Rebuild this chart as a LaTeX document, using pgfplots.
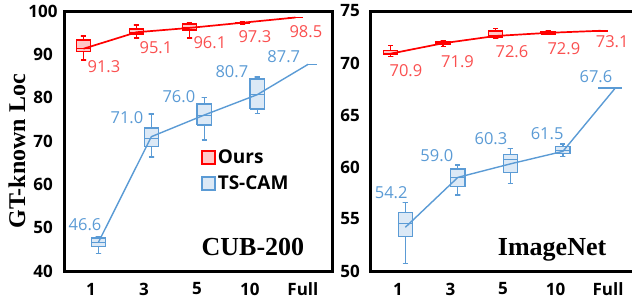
\documentclass[border=0pt]{standalone}
\usepackage{pgfplots}
\pgfplotsset{compat=1.18}
\usepackage{fontspec}
\setmainfont{Open Sans}
\newfontfamily\serifb{Liberation Serif}
\definecolor{ored}{RGB}{255,0,0}
\definecolor{oredfill}{RGB}{255,200,200}
\definecolor{oredtext}{RGB}{250,80,80}
\definecolor{tblue}{RGB}{91,155,213}
\definecolor{tbluefill}{RGB}{220,233,246}
\tikzset{
  oursnum/.style={text=oredtext, font=\fontsize{16.5}{19}\selectfont, anchor=center},
  tsnum/.style={text=tblue, font=\fontsize{16.5}{19}\selectfont, anchor=center},
  dsname/.style={font=\serifb\bfseries\fontsize{26}{30}\selectfont, anchor=center},
}
\pgfplotsset{
  common/.style={
    scale only axis, height=260pt,
    axis line style={line width=3pt, draw=black},
    major tick length=0pt,
    xtick={0,1,2,3,4}, xticklabels={1,3,5,10,Full},
    /pgf/number format/assume math mode=true,
    tick label style={font=\bfseries\fontsize{17}{20}\selectfont},
    xticklabel style={anchor=center, yshift=-18pt},
    clip=false, unbounded coords=jump,
  },
  oursbox/.style={draw=ored, fill=oredfill, line width=1.5pt, mark=none, forget plot},
  tsbox/.style={draw=tblue, fill=tbluefill, line width=1.4pt, mark=none, forget plot},
  ourswhisk/.style={draw=ored, line width=1.4pt, mark=none, forget plot},
  tswhisk/.style={draw=tblue, line width=1.3pt, mark=none, forget plot},
  oursmed/.style={draw=ored, line width=1.0pt, mark=none, forget plot},
  tsmed/.style={draw=tblue, line width=1.0pt, mark=none, forget plot},
  oursline/.style={ored, line width=1.7pt, mark=none, forget plot},
  tsline/.style={tblue, line width=1.4pt, mark=none, forget plot},
}
\begin{document}
\begin{tikzpicture}
\begin{axis}[common, name=lax, width=267pt,
  xmin=-0.49, xmax=4.55, ymin=40, ymax=100, ytick={40,50,...,100},
  yticklabel style={anchor=center, xshift=-22pt},
  ylabel={GT-known Loc},
  every axis y label/.style={at={(axis description cs:-0.18,0.46)}, rotate=90, anchor=center,
    font=\serifb\bfseries\fontsize{24}{28}\selectfont},
  legend style={at={(rel axis cs:0.51,0.475)}, anchor=north west, draw=none, fill=none,
    font=\bfseries\fontsize{19}{22}\selectfont, row sep=7pt, inner sep=0pt,
    cells={anchor=west}},
  legend image code/.code={\draw[#1, line width=1.4pt] (0pt,-6.5pt) rectangle (13pt,6.5pt);},
]
% Ours whiskers, boxes, medians
\addplot[ourswhisk] coordinates {(-0.19,88.7)(-0.09,88.7)(-0.14,88.7)(-0.14,94.2)(-0.19,94.2)(-0.09,94.2)(0,nan)
(0.81,93.8)(0.91,93.8)(0.86,93.8)(0.86,96.8)(0.81,96.8)(0.91,96.8)(0,nan)
(1.81,93.8)(1.91,93.8)(1.86,93.8)(1.86,97.3)(1.81,97.3)(1.91,97.3)(0,nan)
(2.81,97.0)(2.91,97.0)(2.86,97.0)(2.86,97.5)(2.81,97.5)(2.91,97.5)};
\addplot[oursbox] coordinates {(-0.275,90.6)(-0.005,90.6)(-0.005,93.3)(-0.275,93.3)(-0.275,90.6)(0,nan)
(0.725,94.7)(0.995,94.7)(0.995,95.8)(0.725,95.8)(0.725,94.7)(0,nan)
(1.725,95.6)(1.995,95.6)(1.995,97.0)(1.725,97.0)(1.725,95.6)(0,nan)
(2.725,97.2)(2.995,97.2)(2.995,97.4)(2.725,97.4)(2.725,97.2)(0,nan)
(3.725,98.5)(3.995,98.5)};
\addplot[oursmed] coordinates {(-0.275,91.4)(-0.005,91.4)(0,nan)(0.725,95.1)(0.995,95.1)(0,nan)(1.725,96.1)(1.995,96.1)(0,nan)(2.725,97.3)(2.995,97.3)};
% TS-CAM whiskers, boxes, medians
\addplot[tswhisk] coordinates {(0.09,44.1)(0.19,44.1)(0.14,44.1)(0.14,48.0)(0.09,48.0)(0.19,48.0)(0,nan)
(1.09,66.3)(1.19,66.3)(1.14,66.3)(1.14,76.2)(1.09,76.2)(1.19,76.2)(0,nan)
(2.09,70.2)(2.19,70.2)(2.14,70.2)(2.14,80.1)(2.09,80.1)(2.19,80.1)(0,nan)
(3.09,76.4)(3.19,76.4)(3.14,76.4)(3.14,84.8)(3.09,84.8)(3.19,84.8)};
\addplot[tsbox] coordinates {(0.005,45.7)(0.275,45.7)(0.275,47.6)(0.005,47.6)(0.005,45.7)(0,nan)
(1.005,68.8)(1.275,68.8)(1.275,73.0)(1.005,73.0)(1.005,68.8)(0,nan)
(2.005,73.7)(2.275,73.7)(2.275,78.5)(2.005,78.5)(2.005,73.7)(0,nan)
(3.005,77.4)(3.275,77.4)(3.275,84.3)(3.005,84.3)(3.005,77.4)(0,nan)
(4.07,87.7)(4.26,87.7)};
\addplot[tsmed] coordinates {(0.005,46.6)(0.275,46.6)(0,nan)(1.005,70.5)(1.275,70.5)(0,nan)(2.005,76.0)(2.275,76.0)(0,nan)(3.005,80.8)(3.275,80.8)};
% mean lines
\addplot[oursline] coordinates {(-0.14,91.3) (0.86,95.1) (1.86,96.1) (2.86,97.3) (3.86,98.5)};
\addplot[tsline] coordinates {(0.14,46.6) (1.14,71.0) (2.14,76.0) (3.14,80.7) (4.1,87.7)};
% labels
\node[oursnum] at (axis cs:0.245,87.1) {91.3};
\node[oursnum] at (axis cs:1.226,91.5) {95.1};
\node[oursnum] at (axis cs:2.245,92.6) {96.1};
\node[oursnum] at (axis cs:3.094,94.0) {97.3};
\node[oursnum] at (axis cs:4.057,95.2) {98.5};
\node[tsnum] at (axis cs:-0.113,50.6) {46.6};
\node[tsnum] at (axis cs:0.679,75.5) {71.0};
\node[tsnum] at (axis cs:1.66,80.2) {76.0};
\node[tsnum] at (axis cs:2.66,85.9) {80.7};
\node[tsnum] at (axis cs:3.64,89.4) {87.7};
\node[dsname] at (rel axis cs:0.704,0.092) {CUB-200};
\addlegendimage{draw=ored, fill=oredfill}
\addlegendentry{Ours}
\addlegendimage{draw=tblue, fill=tbluefill}
\addlegendentry{TS-CAM}
\end{axis}
\begin{axis}[common, name=rax, width=262pt, at={(lax.south west)}, anchor=south west, xshift=305pt,
  axis x line*=box, axis y line*=left,
  xmin=-0.533, xmax=4.457, ymin=50, ymax=75, ytick={50,55,...,75},
  yticklabel style={anchor=center, xshift=-20pt},
]
\addplot[ourswhisk] coordinates {(-0.19,70.6)(-0.09,70.6)(-0.14,70.6)(-0.14,71.7)(-0.19,71.7)(-0.09,71.7)(0,nan)
(0.81,71.6)(0.91,71.6)(0.86,71.6)(0.86,72.1)(0.81,72.1)(0.91,72.1)(0,nan)
(1.81,72.4)(1.91,72.4)(1.86,72.4)(1.86,73.3)(1.81,73.3)(1.91,73.3)(0,nan)
(2.81,72.75)(2.91,72.75)(2.86,72.75)(2.86,73.1)(2.81,73.1)(2.91,73.1)};
\addplot[oursbox] coordinates {(-0.275,70.8)(-0.005,70.8)(-0.005,71.2)(-0.275,71.2)(-0.275,70.8)(0,nan)
(0.725,71.8)(0.995,71.8)(0.995,72.0)(0.725,72.0)(0.725,71.8)(0,nan)
(1.725,72.5)(1.995,72.5)(1.995,73.1)(1.725,73.1)(1.725,72.5)(0,nan)
(2.725,72.8)(2.995,72.8)(2.995,73.0)(2.725,73.0)(2.725,72.8)(0,nan)
(3.725,73.1)(3.995,73.1)};
\addplot[oursmed] coordinates {(-0.275,70.9)(-0.005,70.9)(0,nan)(0.725,71.9)(0.995,71.9)(0,nan)(1.725,72.6)(1.995,72.6)(0,nan)(2.725,72.9)(2.995,72.9)};
\addplot[tswhisk] coordinates {(0.09,50.7)(0.19,50.7)(0.14,50.7)(0.14,56.6)(0.09,56.6)(0.19,56.6)(0,nan)
(1.09,57.3)(1.19,57.3)(1.14,57.3)(1.14,60.2)(1.09,60.2)(1.19,60.2)(0,nan)
(2.09,58.4)(2.19,58.4)(2.14,58.4)(2.14,61.8)(2.09,61.8)(2.19,61.8)(0,nan)
(3.09,61.0)(3.19,61.0)(3.14,61.0)(3.14,62.2)(3.09,62.2)(3.19,62.2)};
\addplot[tsbox] coordinates {(0.005,53.3)(0.275,53.3)(0.275,55.6)(0.005,55.6)(0.005,53.3)(0,nan)
(1.005,58.1)(1.275,58.1)(1.275,59.8)(1.005,59.8)(1.005,58.1)(0,nan)
(2.005,59.5)(2.275,59.5)(2.275,61.2)(2.005,61.2)(2.005,59.5)(0,nan)
(3.005,61.3)(3.275,61.3)(3.275,62.0)(3.005,62.0)(3.005,61.3)(0,nan)
(3.81,67.6)(4.27,67.6)};
\addplot[tsmed] coordinates {(0.005,54.6)(0.275,54.6)(0,nan)(1.005,59.0)(1.275,59.0)(0,nan)(2.005,60.7)(2.275,60.7)(0,nan)(3.005,61.6)(3.275,61.6)};
\addplot[oursline] coordinates {(-0.14,70.9) (0.86,71.9) (1.86,72.6) (2.86,72.9) (3.86,73.1)};
\addplot[tsline] coordinates {(0.14,54.2) (1.14,59.0) (2.14,60.3) (3.14,61.5) (4.14,67.6)};
\node[oursnum] at (axis cs:0.152,69.28) {70.9};
\node[oursnum] at (axis cs:1.133,70.15) {71.9};
\node[oursnum] at (axis cs:2.17,71.1) {72.6};
\node[oursnum] at (axis cs:3.16,71.4) {72.9};
\node[oursnum] at (axis cs:4.08,72.1) {73.1};
\node[tsnum] at (axis cs:-0.13,57.56) {54.2};
\node[tsnum] at (axis cs:0.74,61.05) {59.0};
\node[tsnum] at (axis cs:1.77,62.7) {60.3};
\node[tsnum] at (axis cs:2.84,63.2) {61.5};
\node[tsnum] at (axis cs:3.77,68.7) {67.6};
\node[dsname] at (rel axis cs:0.695,0.081) {ImageNet};
\end{axis}
% heavy frames over the axis lines
\draw[line width=3pt, black] (lax.south west) rectangle (lax.north east);
\draw[line width=3pt, black] (rax.north east) -- (rax.north west) -- (rax.south west) -- (rax.south east);
\pgfresetboundingbox
\path[use as bounding box] ([shift={(-65pt,-27pt)}]lax.south west) rectangle ([shift={(567pt,271pt)}]lax.south west);
\end{tikzpicture}
\end{document}
